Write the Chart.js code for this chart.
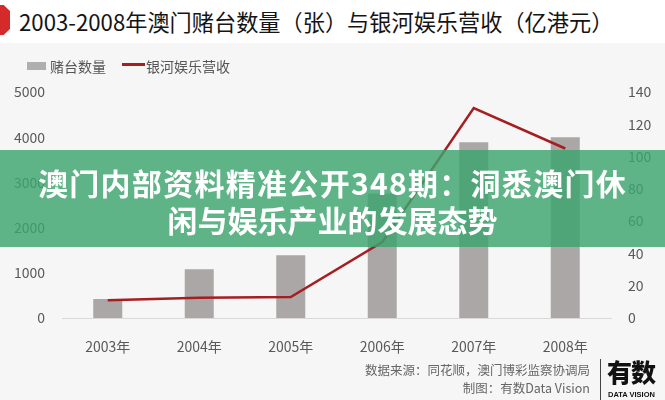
<!DOCTYPE html>
<html>
<head>
<meta charset="utf-8">
<script src="https://cdn.jsdelivr.net/npm/chart.js@4/dist/chart.umd.min.js"></script>
<style>
  html,body{margin:0;padding:0;}
  body{width:665px;height:400px;position:relative;overflow:hidden;background:#f6f6f6;font-family:"Noto Sans CJK SC","Noto Sans",sans-serif;}
  #header{position:absolute;left:0;top:0;width:665px;height:43px;background:#ffffff;}
  #marker{position:absolute;left:-6px;top:5px;width:16px;height:30px;background:#d42a2a;clip-path:polygon(0 0,60% 0,100% 20%,100% 80%,60% 100%,0 100%);}
  #title{position:absolute;left:19px;top:6px;font-size:22.2px;line-height:30px;color:#141414;white-space:nowrap;}
  #wrap{position:absolute;left:0;top:0;width:665px;height:400px;}
  .leg{position:absolute;top:57px;font-size:14px;line-height:18px;color:#555;white-space:nowrap;}
  #legBox{position:absolute;left:27px;top:62px;width:19px;height:8px;background:#b0aeae;}
  #legLine{position:absolute;left:122px;top:63px;width:23px;height:3px;background:#a51e22;}
  #banner{position:absolute;left:0;top:150px;width:665px;height:97px;background:rgba(60,165,110,0.82);color:#fff;font-weight:700;font-size:30px;line-height:37px;text-align:center;padding-top:14px;box-sizing:border-box;white-space:nowrap;}
  #banner .l1{letter-spacing:1.3px;}
  .foot{position:absolute;right:75px;font-size:12.5px;line-height:16px;color:#666;white-space:nowrap;}
  #sep{position:absolute;left:600px;top:359px;width:1px;height:41px;background:#444;}
  #logo{position:absolute;left:607px;top:355px;font-size:25px;line-height:32px;font-weight:900;color:#111;letter-spacing:-1px;}
  #logoSub{position:absolute;left:608px;top:390px;font-size:7.5px;line-height:9px;font-weight:700;color:#111;font-family:"Liberation Sans",sans-serif;}
</style>
</head>
<body>
<div id="header"></div>
<div id="marker"></div>
<div id="title">2003-2008年澳门赌台数量（张）与银河娱乐营收（亿港元）</div>
<div id="wrap"><canvas id="c" width="665" height="400"></canvas></div>
<div id="legBox"></div><div class="leg" style="left:50px;">赌台数量</div>
<div id="legLine"></div><div class="leg" style="left:146px;">银河娱乐营收</div>
<div id="banner"><span class="l1">澳门内部资料精准公开348期：洞悉澳门休</span><br>闲与娱乐产业的发展态势</div>
<div class="foot" style="top:362px;">数据来源：同花顺，澳门博彩监察协调局</div>
<div class="foot" style="top:380px;">制图：有数Data Vision</div>
<div id="sep"></div>
<div id="logo">有数</div>
<div id="logoSub">DATA VISION</div>
<script>
const categories = ["2003年","2004年","2005年","2006年","2007年","2008年"];
const tableCounts = [420, 1080, 1390, 2750, 3890, 4000];
const galaxyRevenue = [11, 12.5, 13, 47, 130, 105];
const leftTicks = [0, 1000, 2000, 3000, 4000, 5000];
const rightTicks = [0, 20, 40, 60, 80, 100, 120, 140];

const tickFont = {family:'"Noto Sans CJK SC","Noto Sans",sans-serif', size:14};
new Chart(document.getElementById('c'), {
  data: {
    labels: categories,
    datasets: [
      {type:'line', label:'银河娱乐营收', data: galaxyRevenue, yAxisID:'y1', borderColor:'#a51e22', borderWidth:2.5, pointRadius:0, tension:0, order:1},
      {type:'bar', label:'赌台数量', data: tableCounts, yAxisID:'y', backgroundColor:'#aaa7a6', barPercentage:0.317, categoryPercentage:1, order:2}
    ]
  },
  options: {
    responsive:false, animation:false,
    layout:{padding:{top:92,left:0,right:0,bottom:0}},
    plugins:{legend:{display:false}, title:{display:false}, tooltip:{enabled:false}},
    scales:{
      x:{
        grid:{display:false, drawTicks:false},
        border:{display:true, color:'#d9d9d9', width:1},
        ticks:{color:'#595959', font:tickFont, padding:20, maxRotation:0},
        afterFit:(a)=>{a.height=82;}
      },
      y:{
        position:'left', min:0, max:5000,
        afterBuildTicks:(a)=>{a.ticks=leftTicks.map(v=>({value:v}));},
        grid:{display:false, drawTicks:false},
        border:{display:false},
        ticks:{color:'#595959', font:tickFont, padding:17, callback:(v)=>String(v)},
        afterFit:(a)=>{a.width=62;}
      },
      y1:{
        position:'right', min:0, max:140,
        afterBuildTicks:(a)=>{a.ticks=rightTicks.map(v=>({value:v}));},
        grid:{display:false, drawTicks:false},
        border:{display:false},
        ticks:{color:'#595959', font:tickFont, padding:17, callback:(v)=>String(v)},
        afterFit:(a)=>{a.width=54;}
      }
    }
  }
});
</script>
</body>
</html>
